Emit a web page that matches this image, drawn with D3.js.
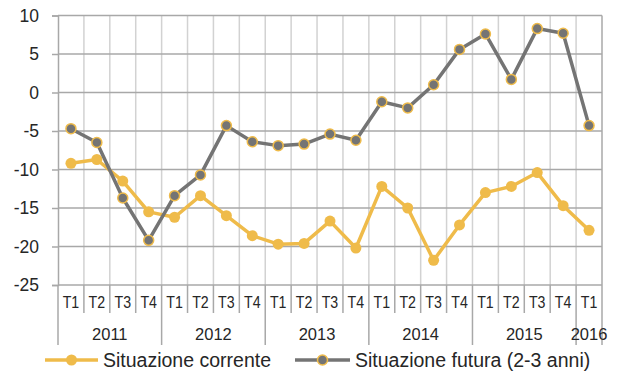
<!DOCTYPE html>
<html>
<head>
<meta charset="utf-8">
<script src="https://cdn.jsdelivr.net/npm/d3@7"></script>
<style>
  html, body { margin: 0; padding: 0; background: #fff; }
  svg text { font-family: "Liberation Sans", Arial, sans-serif; fill: #262626; }
</style>
</head>
<body>
<svg id="chart" width="619" height="374"></svg>
<script>
// Quarterly balance indices, 2011 T1 - 2016 T1
const quarters = ["T1","T2","T3","T4","T1","T2","T3","T4","T1","T2","T3","T4",
                  "T1","T2","T3","T4","T1","T2","T3","T4","T1"];
const years = ["2011","2012","2013","2014","2015","2016"];
const quartersPerYear = [4, 4, 4, 4, 4, 1];
const situazioneCorrente = [-9.2, -8.7, -11.5, -15.5, -16.2, -13.4, -16.0, -18.6, -19.7, -19.6,
                            -16.7, -20.2, -12.2, -15.0, -21.8, -17.2, -13.0, -12.2, -10.4, -14.7, -17.9];
const situazioneFutura = [-4.7, -6.5, -13.7, -19.2, -13.4, -10.7, -4.3, -6.4, -6.9, -6.7,
                          -5.4, -6.2, -1.2, -2.0, 1.0, 5.6, 7.6, 1.7, 8.3, 7.7, -4.3];
const yTicks = [10, 5, 0, -5, -10, -15, -20, -25];
const seriesNames = ["Situazione corrente", "Situazione futura (2-3 anni)"];

const yellow = "#efbb4a";
const grey = "#747474";

const svg = d3.select("#chart");
const plotLeft = 58, plotRight = 602, plotTop = 15.5, plotBottom = 285;

const x = d3.scaleBand().domain(d3.range(quarters.length)).range([plotLeft, plotRight]).padding(0);
const y = d3.scaleLinear().domain([-25, 10]).range([plotBottom, plotTop]);
const cx = i => x(i) + x.bandwidth() / 2;

// vertical gridlines at category boundaries
svg.append("g").selectAll("line")
  .data(d3.range(1, quarters.length))
  .join("line")
  .attr("x1", i => x(i)).attr("x2", i => x(i))
  .attr("y1", plotTop).attr("y2", plotBottom)
  .attr("stroke", "#d2d2d2").attr("stroke-width", 1.5);

// horizontal gridlines
svg.append("g").selectAll("line")
  .data(yTicks)
  .join("line")
  .attr("x1", plotLeft).attr("x2", plotRight)
  .attr("y1", d => y(d)).attr("y2", d => y(d))
  .attr("stroke", "#a8a8a8").attr("stroke-width", 1.5);

// right border
svg.append("line")
  .attr("x1", plotRight).attr("x2", plotRight).attr("y1", plotTop).attr("y2", plotBottom)
  .attr("stroke", "#a8a8a8").attr("stroke-width", 1.5);

// y axis (plain hyphen for negative values)
const yAxis = svg.append("g")
  .attr("transform", `translate(${plotLeft},0)`)
  .call(d3.axisLeft(y).tickValues(yTicks).tickSize(6).tickPadding(13).tickFormat(d => String(d)));
yAxis.select(".domain").attr("stroke", "#a8a8a8").attr("stroke-width", 1.5);
yAxis.selectAll(".tick line").attr("stroke", "#a8a8a8").attr("stroke-width", 1.5);
yAxis.selectAll(".tick text").style("font-size", "17.5px").attr("fill", "#262626")
  .style("font-family", "'Liberation Sans', Arial, sans-serif");

// quarter separators and labels
const xAxis = svg.append("g");
xAxis.selectAll("line.q")
  .data(d3.range(0, quarters.length + 1))
  .join("line")
  .attr("class", "q")
  .attr("x1", i => plotLeft + i * x.bandwidth()).attr("x2", i => plotLeft + i * x.bandwidth())
  .attr("y1", plotBottom).attr("y2", 313)
  .attr("stroke", "#a8a8a8").attr("stroke-width", 1.5);
xAxis.selectAll("text.q")
  .data(quarters)
  .join("text")
  .attr("class", "q")
  .attr("x", (d, i) => cx(i)).attr("y", 308)
  .attr("text-anchor", "middle")
  .style("font-size", "16.5px")
  .attr("transform", (d, i) => `translate(${cx(i)},0) scale(0.86,1) translate(${-cx(i)},0)`)
  .text(d => d);

// year separators and labels
const yearStarts = [0];
quartersPerYear.forEach((n, k) => yearStarts.push(yearStarts[k] + n));
xAxis.selectAll("line.y")
  .data(yearStarts)
  .join("line")
  .attr("class", "y")
  .attr("x1", i => plotLeft + i * x.bandwidth()).attr("x2", i => plotLeft + i * x.bandwidth())
  .attr("y1", 313).attr("y2", 345)
  .attr("stroke", "#a8a8a8").attr("stroke-width", 1.5);
xAxis.selectAll("text.y")
  .data(years)
  .join("text")
  .attr("class", "y")
  .attr("x", (d, k) => plotLeft + (yearStarts[k] + quartersPerYear[k] / 2) * x.bandwidth())
  .attr("y", 339.5)
  .attr("text-anchor", "middle")
  .style("font-size", "16.5px")
  .text(d => d);

// series lines
const line = d3.line().x((d, i) => cx(i)).y(d => y(d));
svg.append("path").datum(situazioneCorrente)
  .attr("d", line).attr("fill", "none")
  .attr("stroke", yellow).attr("stroke-width", 3.5).attr("stroke-linejoin", "round");
svg.append("g").selectAll("circle")
  .data(situazioneCorrente).join("circle")
  .attr("cx", (d, i) => cx(i)).attr("cy", d => y(d)).attr("r", 5.5)
  .attr("fill", yellow);

svg.append("path").datum(situazioneFutura)
  .attr("d", line).attr("fill", "none")
  .attr("stroke", grey).attr("stroke-width", 3.5).attr("stroke-linejoin", "round");
svg.append("g").selectAll("circle")
  .data(situazioneFutura).join("circle")
  .attr("cx", (d, i) => cx(i)).attr("cy", d => y(d)).attr("r", 5)
  .attr("fill", grey).attr("stroke", yellow).attr("stroke-width", 1.5);

// legend
const legend = svg.append("g");
const items = [
  { name: seriesNames[0], x0: 45, x1: 98, color: yellow, fill: yellow, r: 5.5, sw: 0 },
  { name: seriesNames[1], x0: 295, x1: 350, color: grey, fill: grey, r: 5, sw: 1.5 }
];
items.forEach(it => {
  legend.append("line")
    .attr("x1", it.x0).attr("x2", it.x1).attr("y1", 360).attr("y2", 360)
    .attr("stroke", it.color).attr("stroke-width", 3.5);
  legend.append("circle")
    .attr("cx", (it.x0 + it.x1) / 2).attr("cy", 360).attr("r", it.r)
    .attr("fill", it.fill).attr("stroke", yellow).attr("stroke-width", it.sw);
  legend.append("text")
    .attr("x", it.x1 + 5).attr("y", 367)
    .style("font-size", "19.5px")
    .text(it.name);
});
</script>
</body>
</html>
